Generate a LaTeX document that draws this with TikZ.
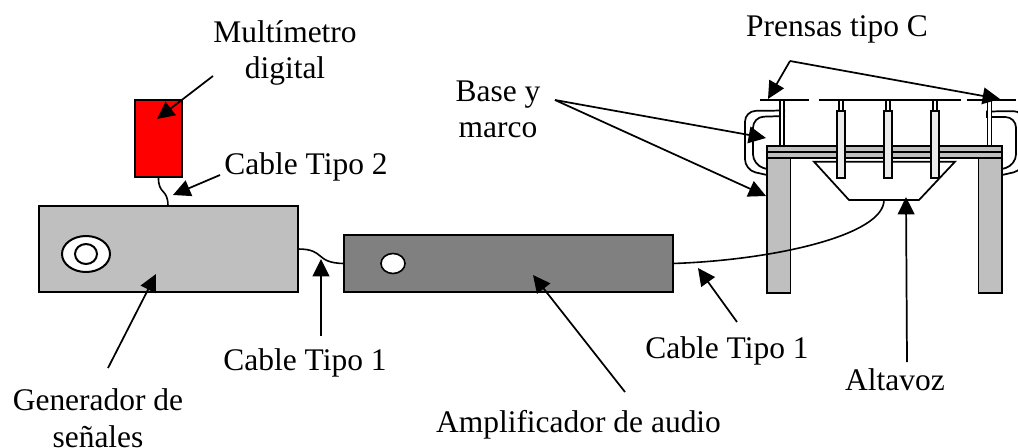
\documentclass[tikz,border=0pt]{standalone}
\usepackage{fontspec}
\setmainfont{Liberation Serif}
\usetikzlibrary{arrows.meta,shapes.geometric}
\tikzset{
  lbl/.style={font=\fontsize{23.6}{27}\selectfont,align=center,inner sep=0pt},
  boxx/.style={draw=black,line width=1.5pt,inner sep=0pt,outer sep=0pt},
  part/.style={draw=black,line width=1.4pt},
  wire/.style={draw=black,line width=1.2pt},
  lead/.style={draw=black,line width=1.3pt,-{Triangle[length=13pt,width=12.5pt]}},
}
\definecolor{genc}{gray}{0.75}
\definecolor{ampc}{gray}{0.5}
\begin{document}
\begin{tikzpicture}[x=0.75pt,y=-0.75pt]
\useasboundingbox (0,0) rectangle (1018,447);
\clip (0,0) rectangle (1018,447);
% boxes
\node[boxx,fill=red,minimum width=35.25pt,minimum height=57.75pt] (red) at (158.5,138.5) {};
\node[boxx,fill=genc,minimum width=194.25pt,minimum height=64.5pt] (gen) at (168.5,249) {};
\node[boxx,fill=ampc,minimum width=246.75pt,minimum height=42.75pt] (amp) at (508.5,263.5) {};
\node[boxx,fill=white,minimum width=36pt,minimum height=27pt,ellipse] (o1) at (86,254) {};
\node[boxx,fill=white,minimum width=16.5pt,minimum height=15pt,ellipse] (o2) at (86,254) {};
\node[boxx,fill=white,minimum width=18pt,minimum height=15pt,ellipse,line width=1.2pt] (o3) at (393,263.5) {};
% clamps behind
\draw[part,line width=1.3pt,rounded corners=8pt] (785,110.5) -- (745,111) -- (745,170) -- (767,175);
\draw[part,line width=1.3pt,rounded corners=8pt] (785,116) -- (753,117) -- (753,165) -- (767,169);
\draw[part,line width=1.3pt,rounded corners=8pt] (986,111.5) -- (1024,111) -- (1024,170) -- (1002,175);
\draw[part,line width=1.3pt,rounded corners=8pt] (986,117) -- (1016,117) -- (1016,165) -- (1002,169);
\fill (985.5,111) rectangle (989,117.5);
% top bar
\draw[black,line width=1.4pt] (760,100) -- (809,100) (819,100) -- (961,100) (967,100) -- (1016,100);
% side rods
\foreach \xx in {782,989.5}{
  \draw[part,line width=1.2pt,fill=white] (\xx-2,100) rectangle (\xx+2,146);
}
% table
\draw[part,fill=genc] (767,158) rectangle (790.5,293);
\draw[part,fill=genc] (978.5,158) rectangle (1002,293);
\draw[part,fill=genc] (767,146) rectangle (1002,152);
\draw[part,fill=genc] (767,152) rectangle (1002,158);
% speaker
\draw[part,line width=1.3pt] (790.5,158) -- (978.5,158);
\draw[part,line width=1.3pt] (814,161.7) -- (955,161.7) -- (919,200) -- (849,200) -- cycle;
\foreach \xx in {841,888,935}{
  \draw[part,line width=1.2pt,fill=white] (\xx-2,100) rectangle (\xx+2,111);
  \draw[part,line width=1.3pt,fill=white!92!black] (\xx-3.8,111) rectangle (\xx+3.8,178);
}
% wires
\coordinate (sp) at (884,200);
\coordinate (genTop) at (168,206);
\draw[wire] (red.south) .. controls (158,195) and (168,188) .. (genTop);
\draw[wire] (gen.east) .. controls (326,249) and (314,263) .. (amp.west);
\draw[wire] (sp) .. controls (884,235) and (775,260) .. (amp.east);
% labels
\node[lbl] (lmul) at (285,53) {Multímetro\\digital};
\node[lbl] (lct2) at (306,167) {Cable Tipo 2};
\node[lbl] (lpr) at (837,29) {Prensas tipo C};
\node[lbl] (lbm) at (498,109) {Base y\\marco};
\node[lbl] (lgen) at (98,418) {Generador de\\[0.75pt]señales};
\node[lbl] (lct1a) at (305,363) {Cable Tipo 1};
\node[lbl] (lct1b) at (727,351) {Cable Tipo 1};
\node[lbl] (lamp) at (578.5,425) {Amplificador de audio};
\node[lbl] (lalt) at (895,380) {Altavoz};
% leader start points
\coordinate (a1) at (213,76);
\coordinate (a2) at (220,175);
\coordinate (a3) at (790,61);
\coordinate (a4) at (555,100);
\coordinate (a5) at (108,368);
\coordinate (a6) at (321,336);
\coordinate (a7) at (737,322);
\coordinate (a8) at (625,392);
\coordinate (a9) at (907,362);
% leader tips
\coordinate (t1) at (157,119);
\coordinate (t2) at (173,195);
\coordinate (t3) at (768,99);
\coordinate (t4) at (1000,99);
\coordinate (t5) at (766,138);
\coordinate (t6) at (766,196);
\coordinate (t7) at (156,274);
\coordinate (t8) at (321,259);
\coordinate (t9) at (698,268);
\coordinate (t10) at (533,275);
\coordinate (t11) at (906,197);
\draw[lead] (a1) -- (t1);
\draw[lead] (a2) -- (t2);
\draw[lead] (a3) -- (t3);
\draw[lead] (a3) -- (t4);
\draw[lead] (a4) -- (t5);
\draw[lead] (a4) -- (t6);
\draw[lead] (a5) -- (t7);
\draw[lead] (a6) -- (t8);
\draw[lead] (a7) -- (t9);
\draw[lead] (a8) -- (t10);
\draw[lead] (a9) -- (t11);
\end{tikzpicture}
\end{document}
